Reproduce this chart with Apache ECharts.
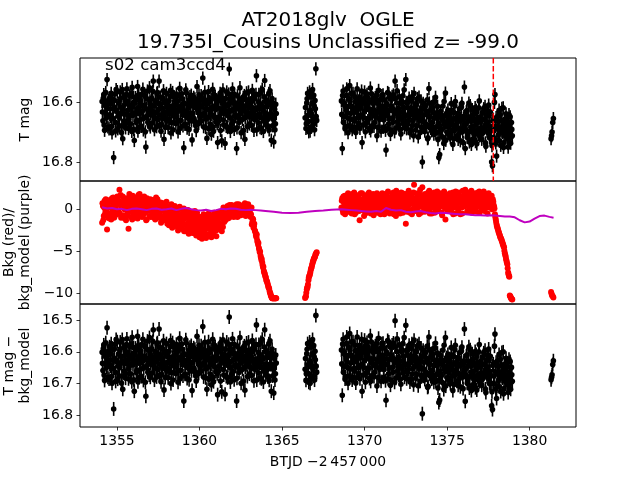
<!DOCTYPE html>
<html><head><meta charset="utf-8">
<script src="https://cdn.jsdelivr.net/npm/echarts@6/dist/echarts.min.js"></script>
<style>html,body{margin:0;padding:0;background:#fff}#c{width:640px;height:480px}</style>
</head><body><div id="c"></div>
<script>
// ---------- text ----------
const titleLine1 = 'AT2018glv  OGLE';
const titleLine2 = '19.735I_Cousins Unclassified z= -99.0';
const sectorLabel = 's02 cam3ccd4';
const xAxisName = 'BTJD \u22122\u2009457\u2009000';
// ---------- ticks ----------
const xTicks = [1355, 1360, 1365, 1370, 1375, 1380];
const magTicks = [16.6, 16.8];
const bkgTicks = [-10, -5, 0];
const corrTicks = [16.5, 16.6, 16.7, 16.8];
const triggerTime = 1377.8;
const magErr = 0.022;

// ---------- segment A ----------
const tA = [
1354.10,1354.15,1354.20,1354.25,1354.30,1354.35,1354.40,1354.45,1354.50,1354.55,
1354.60,1354.65,1354.70,1354.75,1354.80,1354.85,1354.90,1354.95,1355.00,1355.05,
1355.10,1355.15,1355.20,1355.25,1355.30,1355.35,1355.40,1355.45,1355.50,1355.55,
1355.60,1355.65,1355.70,1355.75,1355.80,1355.85,1355.90,1355.95,1356.00,1356.05,
1356.10,1356.15,1356.20,1356.25,1356.30,1356.35,1356.40,1356.45,1356.50,1356.55,
1356.60,1356.65,1356.70,1356.75,1356.80,1356.85,1356.90,1356.95,1357.00,1357.05,
1357.10,1357.15,1357.20,1357.25,1357.30,1357.35,1357.40,1357.45,1357.50,1357.55,
1357.60,1357.65,1357.70,1357.75,1357.80,1357.85,1357.90,1357.95,1358.00,1358.05,
1358.10,1358.15,1358.20,1358.25,1358.30,1358.35,1358.40,1358.45,1358.50,1358.55,
1358.60,1358.65,1358.70,1358.75,1358.80,1358.85,1358.90,1358.95,1359.00,1359.05,
1359.10,1359.15,1359.20,1359.25,1359.30,1359.35,1359.40,1359.45,1359.50,1359.55,
1359.60,1359.65,1359.70,1359.75,1359.80,1359.85,1359.90,1359.95,1360.00,1360.05,
1360.10,1360.15,1360.20,1360.25,1360.30,1360.35,1360.40,1360.45,1360.50,1360.55,
1360.60,1360.65,1360.70,1360.75,1360.80,1360.85,1360.90,1360.95,1361.00,1361.05,
1361.10,1361.15,1361.20,1361.25,1361.30,1361.35,1361.40,1361.45,1361.50,1361.55,
1361.60,1361.65,1361.70,1361.75,1361.80,1361.85,1361.90,1361.95,1362.00,1362.05,
1362.10,1362.15,1362.20,1362.25,1362.30,1362.35,1362.40,1362.45,1362.50,1362.55,
1362.60,1362.65,1362.70,1362.75,1362.80,1362.85,1362.90,1362.95,1363.00,1363.05,
1363.10,1363.15,1363.20,1363.25,1363.30,1363.35,1363.40,1363.45,1363.50,1363.55,
1363.60,1363.65,1363.70,1363.75,1363.80,1363.85,1363.90,1363.95,1364.00,1364.05,
1364.10,1364.15,1364.20,1364.25,1364.30,1364.35,1364.40,1364.45,1364.50,1364.55,
1364.60,1364.65];
const magA = [
16.598,16.662,16.575,16.694,16.612,16.641,16.525,16.683,16.606,16.587,
16.648,16.571,16.703,16.622,16.785,16.594,16.667,16.558,16.631,16.689,
16.603,16.652,16.566,16.618,16.679,16.722,16.584,16.640,16.597,16.671,
16.556,16.627,16.688,16.609,16.645,16.572,16.698,16.615,16.583,16.728,
16.636,16.592,16.661,16.548,16.619,16.684,16.601,16.657,16.574,16.629,
16.693,16.611,16.581,16.750,16.647,16.563,16.624,16.676,16.596,16.638,
16.587,16.669,16.530,16.613,16.654,16.599,16.682,16.568,16.625,16.530,
16.643,16.608,16.674,16.589,16.636,16.724,16.602,16.657,16.571,16.617,
16.685,16.595,16.639,16.561,16.668,16.614,16.692,16.582,16.646,16.607,
16.573,16.633,16.699,16.618,16.554,16.661,16.627,16.588,16.679,16.752,
16.604,16.645,16.569,16.687,16.621,16.593,16.658,16.612,16.577,16.726,
16.637,16.584,16.664,16.602,16.695,16.548,16.629,16.671,16.593,16.649,
16.578,16.615,16.520,16.682,16.638,16.597,16.656,16.721,16.605,16.565,
16.626,16.673,16.589,16.642,16.557,16.697,16.613,16.581,16.664,16.606,
16.735,16.594,16.648,16.571,16.623,16.729,16.587,16.659,16.611,16.738,
16.632,16.566,16.685,16.607,16.490,16.652,16.595,16.674,16.556,16.628,
16.691,16.603,16.644,16.755,16.579,16.621,16.667,16.552,16.638,16.599,
16.658,16.584,16.627,16.724,16.612,16.569,16.681,16.636,16.593,16.649,
16.602,16.677,16.561,16.633,16.694,16.588,16.645,16.512,16.619,16.668,
16.574,16.639,16.606,16.688,16.557,16.625,16.663,16.528,16.597,16.651,
16.615,16.682,16.571,16.642,16.603,16.727,16.589,16.656,16.733,16.624,
16.672,16.638];
const bkgA = [
-1.6,0.4,-0.8,1.0,-0.2,0.6,-2.4,-0.5,0.9,-1.1,
0.2,-1.2,1.3,-0.4,0.7,-0.9,0.1,1.1,-0.6,0.5,
-0.3,2.3,0.8,-1.0,0.3,1.5,-0.7,0.0,1.2,-1.3,
0.6,-0.4,-2.3,1.8,0.2,-0.9,1.0,1.6,-0.5,0.4,
1.4,-0.2,0.7,-1.1,1.7,0.1,-0.6,0.9,1.3,-0.8,
0.3,1.5,-0.4,0.8,-1.2,0.5,1.1,-0.1,0.6,-0.9,
1.0,-0.3,0.4,-1.0,0.9,0.2,-0.7,1.2,-0.2,0.5,
-0.6,0.8,-1.4,0.1,0.7,-1.1,0.3,-0.5,0.9,-1.7,
-0.4,-1.9,0.2,-1.0,0.6,-2.2,-0.3,-1.4,0.4,-0.8,
-1.6,-0.2,-2.5,-0.9,0.3,-1.3,-2.0,-0.6,-1.8,0.1,
-1.1,-2.6,-0.5,-1.7,-0.1,-2.9,-1.4,-0.8,-2.2,-0.3,
-1.9,-0.7,-2.8,-1.2,-3.1,-0.4,-2.1,-1.5,-3.3,-0.9,
-2.4,-3.5,-1.3,-0.6,-2.7,-1.8,-3.4,-1.0,-2.3,-0.5,
-1.6,-2.9,-0.8,-2.0,-1.2,-3.0,-0.4,-1.9,-2.5,-0.9,
-1.4,-2.2,-0.3,-1.7,-0.8,-2.6,-1.1,0.2,-1.5,-0.6,
-0.2,-0.9,0.4,-0.5,-1.0,0.1,-0.7,0.5,-0.3,-0.8,
0.3,-0.6,-0.1,0.6,-0.9,0.0,-0.4,0.4,-0.7,0.2,
-0.5,0.5,-0.2,0.7,-0.8,0.3,-0.3,0.6,-0.6,-0.1,
-0.9,0.2,-1.5,-1.2,-2.0,-2.5,-2.8,-3.3,-3.7,-4.2,
-4.6,-5.1,-5.5,-6.0,-6.3,-6.9,-7.3,-7.6,-8.0,-8.4,
-8.6,-9.0,-9.3,-9.7,-10.0,-10.3,-10.55,-10.55,-10.55,-10.55,
-10.55,-10.55];
const corrA = [
16.601,16.659,16.578,16.690,16.615,16.638,16.524,16.680,16.609,16.584,
16.645,16.574,16.699,16.625,16.780,16.591,16.664,16.561,16.628,16.686,
16.606,16.649,16.569,16.615,16.676,16.718,16.587,16.637,16.600,16.668,
16.559,16.624,16.685,16.612,16.642,16.575,16.694,16.618,16.586,16.724,
16.633,16.595,16.658,16.551,16.616,16.681,16.604,16.654,16.577,16.626,
16.690,16.614,16.584,16.740,16.644,16.566,16.621,16.673,16.599,16.635,
16.590,16.666,16.530,16.616,16.651,16.602,16.679,16.571,16.622,16.528,
16.640,16.611,16.671,16.592,16.633,16.720,16.605,16.654,16.574,16.614,
16.682,16.598,16.636,16.564,16.665,16.617,16.689,16.585,16.643,16.610,
16.576,16.630,16.696,16.621,16.557,16.658,16.624,16.591,16.676,16.755,
16.607,16.642,16.572,16.684,16.624,16.596,16.655,16.615,16.580,16.722,
16.634,16.587,16.661,16.605,16.692,16.551,16.626,16.668,16.596,16.646,
16.581,16.612,16.520,16.679,16.635,16.600,16.653,16.718,16.608,16.568,
16.623,16.670,16.592,16.639,16.560,16.694,16.616,16.584,16.661,16.609,
16.735,16.597,16.645,16.574,16.620,16.726,16.590,16.656,16.614,16.734,
16.629,16.569,16.682,16.610,16.490,16.649,16.598,16.671,16.559,16.625,
16.688,16.606,16.641,16.755,16.582,16.618,16.664,16.555,16.635,16.602,
16.655,16.587,16.624,16.721,16.615,16.572,16.678,16.633,16.596,16.646,
16.605,16.674,16.564,16.630,16.691,16.591,16.642,16.515,16.622,16.665,
16.577,16.636,16.609,16.685,16.560,16.622,16.660,16.530,16.600,16.648,
16.618,16.679,16.574,16.639,16.606,16.724,16.592,16.653,16.730,16.621,
16.669,16.635];

// ---------- segment A, interleaved cadences ----------
const tA2 = [
1354.12,1354.17,1354.22,1354.27,1354.32,1354.37,1354.42,1354.47,1354.52,1354.57,
1354.62,1354.67,1354.72,1354.77,1354.82,1354.87,1354.92,1354.97,1355.02,1355.07,
1355.12,1355.17,1355.22,1355.27,1355.32,1355.37,1355.42,1355.47,1355.52,1355.57,
1355.62,1355.67,1355.72,1355.77,1355.82,1355.87,1355.92,1355.97,1356.02,1356.07,
1356.12,1356.17,1356.22,1356.27,1356.32,1356.37,1356.42,1356.47,1356.52,1356.57,
1356.62,1356.67,1356.72,1356.77,1356.82,1356.87,1356.92,1356.97,1357.02,1357.07,
1357.12,1357.17,1357.22,1357.27,1357.32,1357.37,1357.42,1357.47,1357.52,1357.57,
1357.62,1357.67,1357.72,1357.77,1357.82,1357.87,1357.92,1357.97,1358.02,1358.07,
1358.12,1358.17,1358.22,1358.27,1358.32,1358.37,1358.42,1358.47,1358.52,1358.57,
1358.62,1358.67,1358.72,1358.77,1358.82,1358.87,1358.92,1358.97,1359.02,1359.07,
1359.12,1359.17,1359.22,1359.27,1359.32,1359.37,1359.42,1359.47,1359.52,1359.57,
1359.62,1359.67,1359.72,1359.77,1359.82,1359.87,1359.92,1359.97,1360.02,1360.07,
1360.12,1360.17,1360.22,1360.27,1360.32,1360.37,1360.42,1360.47,1360.52,1360.57,
1360.62,1360.67,1360.72,1360.77,1360.82,1360.87,1360.92,1360.97,1361.02,1361.07,
1361.12,1361.17,1361.22,1361.27,1361.32,1361.37,1361.42,1361.47,1361.52,1361.57,
1361.62,1361.67,1361.72,1361.77,1361.82,1361.87,1361.92,1361.97,1362.02,1362.07,
1362.12,1362.17,1362.22,1362.27,1362.32,1362.37,1362.42,1362.47,1362.52,1362.57,
1362.62,1362.67,1362.72,1362.77,1362.82,1362.87,1362.92,1362.97,1363.02,1363.07,
1363.12,1363.17,1363.22,1363.27,1363.32,1363.37,1363.42,1363.47,1363.52,1363.57,
1363.62,1363.67,1363.72,1363.77,1363.82,1363.87,1363.92,1363.97,1364.02,1364.07,
1364.12,1364.17,1364.22,1364.27,1364.32,1364.37,1364.42,1364.47,1364.52,1364.57,
1364.62];
const magA2 = [
16.633,16.587,16.676,16.609,16.568,16.652,16.621,16.595,16.689,16.642,
16.604,16.681,16.589,16.655,16.617,16.573,16.696,16.628,16.565,16.647,
16.679,16.592,16.639,16.701,16.558,16.626,16.663,16.608,16.686,16.574,
16.641,16.598,16.657,16.579,16.672,16.616,16.551,16.644,16.691,16.603,
16.585,16.668,16.624,16.697,16.576,16.639,16.593,16.681,16.612,16.557,
16.654,16.578,16.699,16.622,16.589,16.667,16.641,16.552,16.683,16.609,
16.628,16.564,16.646,16.692,16.596,16.634,16.571,16.658,16.605,16.678,
16.583,16.697,16.619,16.655,16.562,16.638,16.684,16.597,16.663,16.629,
16.611,16.656,16.581,16.703,16.627,16.568,16.645,16.624,16.592,16.671,
16.648,16.596,16.662,16.579,16.688,16.613,16.572,16.642,16.606,16.631,
16.674,16.559,16.631,16.608,16.654,16.691,16.582,16.637,16.663,16.598,
16.612,16.655,16.589,16.678,16.621,16.603,16.669,16.576,16.641,16.614,
16.663,16.588,16.643,16.604,16.567,16.685,16.622,16.594,16.651,16.689,
16.598,16.641,16.707,16.617,16.683,16.575,16.651,16.625,16.592,16.672,
16.619,16.664,16.581,16.695,16.638,16.603,16.559,16.676,16.627,16.588,
16.681,16.612,16.645,16.573,16.631,16.698,16.587,16.626,16.664,16.602,
16.574,16.649,16.617,16.686,16.606,16.653,16.589,16.629,16.702,16.613,
16.626,16.695,16.578,16.651,16.593,16.638,16.606,16.566,16.673,16.617,
16.647,16.591,16.619,16.583,16.657,16.626,16.574,16.692,16.648,16.599,
16.621,16.685,16.567,16.652,16.613,16.698,16.582,16.636,16.675,16.594,
16.658,16.601,16.693,16.562,16.637,16.611,16.679,16.603,16.645,16.692,
16.607];
const bkgA2 = [
0.7,-1.3,0.2,-0.6,1.2,-0.1,0.8,-1.0,0.3,1.1,
-0.7,0.9,-0.2,1.4,-1.0,0.5,-0.4,0.8,1.5,-0.3,
1.0,-0.5,1.7,0.4,-0.9,0.9,0.2,-1.1,0.6,1.3,
-0.8,1.2,0.3,-0.3,1.5,0.7,-1.2,0.1,1.1,-0.6,
0.5,-1.0,1.1,0.3,-0.5,1.8,-0.2,0.6,-0.9,1.0,
-0.6,0.9,0.1,-1.3,1.3,-0.2,0.7,-0.8,1.2,0.2,
-0.8,1.1,-0.4,0.6,-1.2,1.4,0.0,-0.6,0.8,-1.0,
0.4,-1.6,0.6,-0.9,-0.2,0.5,-1.3,0.2,-0.8,0.3,
-1.3,0.0,-1.7,-0.5,-2.0,0.3,-1.1,-0.2,-1.8,-0.6,
-0.4,-2.1,-1.0,0.2,-1.7,-0.7,-2.3,-0.1,-1.2,-2.6,
-0.6,-1.9,-2.4,-0.9,-2.0,-1.2,-0.3,-2.5,-1.6,-2.8,
-1.0,-2.4,-0.2,-1.8,-2.6,-0.8,-1.4,-3.0,-2.2,-1.1,
-1.7,-2.9,-0.9,-2.2,-3.2,-1.4,-2.0,-0.7,-3.0,-1.9,
-2.3,-1.0,-3.3,-1.5,-2.6,-0.6,-2.1,-1.3,-3.2,-1.6,
-2.0,-0.6,-2.4,-1.0,-1.9,-0.4,-2.1,-0.9,0.1,-1.3,
-0.6,0.2,-1.1,-0.3,0.5,-0.8,0.0,-0.5,0.3,-0.9,
-0.3,0.4,-0.8,0.1,-0.5,0.6,-0.2,-0.7,0.3,-0.4,
0.1,-0.6,0.4,-0.3,0.6,-0.7,0.2,-0.4,0.0,-0.5,
-0.6,-1.8,-1.1,-2.2,-1.7,-2.6,-3.1,-3.0,-3.9,-4.0,
-4.8,-5.0,-5.7,-5.9,-6.6,-6.8,-7.5,-7.8,-8.1,-8.5,
-8.8,-9.2,-9.4,-9.9,-10.2,-10.45,-10.55,-10.55,-10.55,-10.55,
-10.55];
const corrA2 = [
16.636,16.590,16.673,16.612,16.571,16.649,16.624,16.598,16.686,16.639,
16.607,16.678,16.592,16.652,16.620,16.576,16.693,16.631,16.568,16.644,
16.676,16.595,16.636,16.698,16.561,16.629,16.660,16.611,16.683,16.577,
16.638,16.601,16.654,16.582,16.669,16.619,16.554,16.641,16.688,16.606,
16.588,16.665,16.627,16.694,16.579,16.636,16.596,16.678,16.615,16.560,
16.651,16.581,16.696,16.625,16.592,16.664,16.638,16.555,16.680,16.612,
16.625,16.567,16.643,16.689,16.599,16.631,16.574,16.655,16.608,16.675,
16.586,16.694,16.622,16.652,16.565,16.635,16.681,16.600,16.660,16.632,
16.614,16.653,16.584,16.700,16.630,16.571,16.642,16.627,16.595,16.668,
16.645,16.599,16.659,16.582,16.685,16.616,16.575,16.639,16.609,16.628,
16.671,16.562,16.628,16.611,16.651,16.688,16.585,16.634,16.660,16.601,
16.615,16.652,16.592,16.675,16.624,16.606,16.666,16.579,16.638,16.617,
16.660,16.591,16.640,16.607,16.570,16.682,16.625,16.597,16.648,16.686,
16.601,16.638,16.704,16.620,16.680,16.578,16.648,16.628,16.595,16.669,
16.622,16.661,16.584,16.692,16.635,16.606,16.562,16.673,16.630,16.591,
16.678,16.615,16.642,16.576,16.634,16.695,16.590,16.629,16.661,16.605,
16.577,16.646,16.620,16.683,16.609,16.650,16.592,16.632,16.699,16.616,
16.629,16.692,16.581,16.648,16.596,16.641,16.609,16.569,16.670,16.620,
16.650,16.594,16.622,16.586,16.654,16.629,16.577,16.689,16.645,16.602,
16.624,16.682,16.570,16.649,16.616,16.695,16.585,16.639,16.672,16.597,
16.655,16.604,16.690,16.565,16.640,16.614,16.676,16.606,16.642,16.689,
16.610];

// ---------- segment B ----------
const tB = [1366.40,1366.45,1366.50,1366.55,1366.60,1366.65,1366.70,1366.75,1366.80,1366.85,1366.90,1366.95,1367.00,1367.05,1367.10];
const magB = [16.652,16.688,16.603,16.571,16.665,16.629,16.697,16.582,16.641,16.558,16.674,16.613,16.595,16.489,16.661];
const bkgB = [-10.5,-10.3,-9.5,-9.2,-8.4,-7.9,-7.6,-7.1,-6.8,-6.4,-6.1,-5.8,-5.6,-5.3,-5.1];
const corrB = [16.655,16.690,16.606,16.574,16.668,16.632,16.699,16.585,16.644,16.561,16.677,16.616,16.598,16.485,16.664];
const tB2 = [1366.42,1366.47,1366.52,1366.57,1366.62,1366.67,1366.72,1366.77,1366.82,1366.87,1366.92,1366.97,1367.02,1367.07];
const magB2 = [16.618,16.672,16.589,16.644,16.699,16.566,16.631,16.683,16.604,16.657,16.577,16.692,16.622,16.648];
const bkgB2 = [-10.4,-9.9,-9.3,-8.9,-8.1,-7.8,-7.4,-7.0,-6.6,-6.2,-5.9,-5.7,-5.4,-5.2];
const corrB2 = [16.621,16.669,16.592,16.641,16.696,16.569,16.634,16.680,16.607,16.654,16.580,16.689,16.625,16.645];

// ---------- segment C ----------
const tC = [
1368.60,1368.65,1368.70,1368.75,1368.80,1368.85,1368.90,1368.95,1369.00,1369.05,
1369.10,1369.15,1369.20,1369.25,1369.30,1369.35,1369.40,1369.45,1369.50,1369.55,
1369.60,1369.65,1369.70,1369.75,1369.80,1369.85,1369.90,1369.95,1370.00,1370.05,
1370.10,1370.15,1370.20,1370.25,1370.30,1370.35,1370.40,1370.45,1370.50,1370.55,
1370.60,1370.65,1370.70,1370.75,1370.80,1370.85,1370.90,1370.95,1371.00,1371.05,
1371.10,1371.15,1371.20,1371.25,1371.30,1371.35,1371.40,1371.45,1371.50,1371.55,
1371.60,1371.65,1371.70,1371.75,1371.80,1371.85,1371.90,1371.95,1372.00,1372.05,
1372.10,1372.15,1372.20,1372.25,1372.30,1372.35,1372.40,1372.45,1372.50,1372.55,
1372.60,1372.65,1372.70,1372.75,1372.80,1372.85,1372.90,1372.95,1373.00,1373.05,
1373.10,1373.15,1373.20,1373.25,1373.30,1373.35,1373.40,1373.45,1373.50,1373.55,
1373.60,1373.65,1373.70,1373.75,1373.80,1373.85,1373.90,1373.95,1374.00,1374.05,
1374.10,1374.15,1374.20,1374.25,1374.30,1374.35,1374.40,1374.45,1374.50,1374.55,
1374.60,1374.65,1374.70,1374.75,1374.80,1374.85,1374.90,1374.95,1375.00,1375.05,
1375.10,1375.15,1375.20,1375.25,1375.30,1375.35,1375.40,1375.45,1375.50,1375.55,
1375.60,1375.65,1375.70,1375.75,1375.80,1375.85,1375.90,1375.95,1376.00,1376.05,
1376.10,1376.15,1376.20,1376.25,1376.30,1376.35,1376.40,1376.45,1376.50,1376.55,
1376.60,1376.65,1376.70,1376.75,1376.80,1376.85,1376.90,1376.95,1377.00,1377.05,
1377.10,1377.15,1377.20,1377.25,1377.30,1377.35,1377.40,1377.45,1377.50,1377.55,
1377.60,1377.65,1377.70,1377.75,1377.80,1377.85,1377.90,1377.95,1378.00,1378.05,
1378.10,1378.15,1378.20,1378.25,1378.30,1378.35,1378.40,1378.45,1378.50,1378.55,
1378.60,1378.65,1378.70,1378.75,1378.80,1378.85,1378.90,1378.95];
const magC = [
16.596,16.755,16.563,16.648,16.612,16.681,16.577,16.635,16.702,16.589,
16.545,16.657,16.614,16.692,16.571,16.628,16.663,16.598,16.685,16.556,
16.624,16.671,16.583,16.645,16.607,16.735,16.592,16.653,16.566,16.699,
16.618,16.574,16.662,16.601,16.688,16.553,16.637,16.679,16.594,16.626,
16.669,16.585,16.643,16.712,16.604,16.561,16.654,16.622,16.697,16.578,
16.636,16.684,16.592,16.645,16.760,16.611,16.568,16.673,16.627,16.589,
16.693,16.614,16.652,16.576,16.638,16.530,16.687,16.603,16.664,16.621,
16.582,16.648,16.706,16.597,16.633,16.671,16.559,16.642,16.525,16.689,
16.618,16.664,16.587,16.703,16.635,16.596,16.678,16.621,16.571,16.653,
16.692,16.609,16.647,16.716,16.583,16.661,16.629,16.684,16.800,16.604,
16.643,16.697,16.611,16.675,16.592,16.719,16.555,16.651,16.688,16.626,
16.668,16.601,16.707,16.639,16.584,16.682,16.654,16.725,16.785,16.775,
16.631,16.694,16.658,16.613,16.738,16.672,16.570,16.646,16.701,16.627,
16.683,16.652,16.719,16.605,16.667,16.741,16.634,16.691,16.598,16.676,
16.712,16.643,16.687,16.622,16.729,16.661,16.604,16.698,16.655,16.550,
16.755,16.671,16.628,16.706,16.649,16.733,16.612,16.684,16.662,16.723,
16.641,16.697,16.618,16.676,16.739,16.653,16.708,16.596,16.687,16.664,
16.724,16.635,16.692,16.658,16.614,16.747,16.671,16.629,16.703,16.645,
16.682,16.718,16.800,16.812,16.657,16.695,16.575,16.736,16.780,16.648,
16.709,16.627,16.683,16.744,16.661,16.702,16.619,16.735,16.674,16.693,
16.656,16.721,16.750,16.642,16.698,16.737,16.668,16.712];
const bkgC = [
0.2,1.3,-0.4,0.8,1.6,0.0,1.1,-0.2,1.9,0.5,
1.4,-0.3,0.9,1.8,0.2,1.2,-0.6,0.7,1.5,0.1,
0.6,1.7,-1.3,1.0,0.3,1.9,-0.1,0.8,1.3,-0.5,
1.1,0.4,1.8,-0.2,0.9,1.4,0.0,1.6,0.5,-0.7,
0.7,1.5,0.1,1.9,-0.4,1.0,0.6,1.7,-0.1,1.2,
0.3,1.8,-0.6,1.1,0.5,1.6,-0.2,0.9,1.4,0.2,
1.3,-0.3,0.8,2.0,0.1,1.2,-0.8,0.6,1.7,0.4,
1.0,-0.5,1.5,0.3,1.9,0.7,-0.1,1.2,-1.7,0.9,
0.2,1.6,0.5,-0.4,1.3,0.8,1.9,0.0,2.9,1.1,
-0.2,1.4,0.6,1.8,-0.6,1.0,0.3,1.7,2.6,0.5,
1.2,-0.3,0.9,1.6,0.1,2.0,0.7,-0.5,1.3,0.4,
1.8,0.2,1.1,-0.4,1.5,0.6,2.1,-0.1,1.0,0.8,
0.3,1.4,-0.7,1.9,0.5,1.2,-1.2,0.9,1.6,0.0,
1.1,0.4,1.7,-0.3,0.8,2.0,0.2,1.3,-0.5,1.0,
0.6,1.8,0.1,1.2,-0.6,1.5,0.7,2.2,0.3,0.9,
2.3,0.5,1.4,-0.2,1.0,1.7,0.3,1.1,-0.4,1.6,
0.8,0.2,1.9,0.6,-0.3,1.3,0.9,2.1,0.4,1.0,
-0.1,1.5,0.7,1.2,0.3,1.8,0.5,-0.5,1.4,0.8,
1.1,0.4,1.6,0.2,0.9,0.3,-0.6,-1.2,-1.8,-2.2,
-2.5,-2.8,-3.1,-3.4,-3.6,-3.9,-4.2,-4.5,-5.2,-5.6,
-6.1,-6.5,-7.5,-7.9,-10.2,-10.4,-10.6,-10.7];
const corrC = [
16.594,16.737,16.560,16.645,16.609,16.678,16.574,16.632,16.699,16.586,
16.542,16.654,16.611,16.689,16.568,16.625,16.660,16.595,16.682,16.553,
16.621,16.668,16.580,16.642,16.604,16.724,16.589,16.650,16.563,16.696,
16.614,16.570,16.658,16.597,16.684,16.549,16.633,16.675,16.590,16.622,
16.665,16.581,16.639,16.708,16.600,16.557,16.650,16.618,16.693,16.574,
16.632,16.680,16.588,16.641,16.753,16.607,16.564,16.669,16.623,16.585,
16.689,16.610,16.648,16.572,16.634,16.502,16.683,16.599,16.660,16.617,
16.578,16.644,16.702,16.593,16.629,16.667,16.555,16.638,16.516,16.685,
16.610,16.656,16.579,16.695,16.627,16.588,16.670,16.613,16.563,16.645,
16.683,16.600,16.638,16.707,16.574,16.652,16.620,16.675,16.795,16.595,
16.633,16.687,16.601,16.665,16.582,16.709,16.553,16.641,16.678,16.616,
16.657,16.590,16.696,16.628,16.573,16.671,16.643,16.714,16.760,16.752,
16.612,16.675,16.639,16.594,16.719,16.653,16.555,16.627,16.682,16.608,
16.664,16.633,16.700,16.586,16.648,16.722,16.615,16.672,16.579,16.657,
16.693,16.624,16.668,16.603,16.710,16.642,16.585,16.679,16.636,16.528,
16.756,16.652,16.609,16.687,16.630,16.714,16.593,16.665,16.643,16.704,
16.622,16.678,16.599,16.657,16.720,16.634,16.689,16.577,16.668,16.645,
16.705,16.616,16.673,16.639,16.595,16.728,16.652,16.610,16.684,16.626,
16.663,16.699,16.770,16.782,16.638,16.676,16.544,16.717,16.747,16.629,
16.690,16.608,16.664,16.725,16.642,16.683,16.600,16.716,16.655,16.674,
16.637,16.702,16.728,16.623,16.679,16.718,16.649,16.693];

// ---------- segment C, interleaved cadences ----------
const tC2 = [
1368.62,1368.67,1368.72,1368.77,1368.82,1368.87,1368.92,1368.97,1369.02,1369.07,
1369.12,1369.17,1369.22,1369.27,1369.32,1369.37,1369.42,1369.47,1369.52,1369.57,
1369.62,1369.67,1369.72,1369.77,1369.82,1369.87,1369.92,1369.97,1370.02,1370.07,
1370.12,1370.17,1370.22,1370.27,1370.32,1370.37,1370.42,1370.47,1370.52,1370.57,
1370.62,1370.67,1370.72,1370.77,1370.82,1370.87,1370.92,1370.97,1371.02,1371.07,
1371.12,1371.17,1371.22,1371.27,1371.32,1371.37,1371.42,1371.47,1371.52,1371.57,
1371.62,1371.67,1371.72,1371.77,1371.82,1371.87,1371.92,1371.97,1372.02,1372.07,
1372.12,1372.17,1372.22,1372.27,1372.32,1372.37,1372.42,1372.47,1372.52,1372.57,
1372.62,1372.67,1372.72,1372.77,1372.82,1372.87,1372.92,1372.97,1373.02,1373.07,
1373.12,1373.17,1373.22,1373.27,1373.32,1373.37,1373.42,1373.47,1373.52,1373.57,
1373.62,1373.67,1373.72,1373.77,1373.82,1373.87,1373.92,1373.97,1374.02,1374.07,
1374.12,1374.17,1374.22,1374.27,1374.32,1374.37,1374.42,1374.47,1374.52,1374.57,
1374.62,1374.67,1374.72,1374.77,1374.82,1374.87,1374.92,1374.97,1375.02,1375.07,
1375.12,1375.17,1375.22,1375.27,1375.32,1375.37,1375.42,1375.47,1375.52,1375.57,
1375.62,1375.67,1375.72,1375.77,1375.82,1375.87,1375.92,1375.97,1376.02,1376.07,
1376.12,1376.17,1376.22,1376.27,1376.32,1376.37,1376.42,1376.47,1376.52,1376.57,
1376.62,1376.67,1376.72,1376.77,1376.82,1376.87,1376.92,1376.97,1377.02,1377.07,
1377.12,1377.17,1377.22,1377.27,1377.32,1377.37,1377.42,1377.47,1377.52,1377.57,
1377.62,1377.67,1377.72,1377.77,1377.82,1377.87,1377.92,1377.97,1378.02,1378.07,
1378.12,1378.17,1378.22,1378.27,1378.32,1378.37,1378.42,1378.47,1378.52,1378.57,
1378.62,1378.67,1378.72,1378.77,1378.82,1378.87,1378.92];
const magC2 = [
16.641,16.578,16.667,16.603,16.689,16.624,16.556,16.652,16.615,16.679,
16.597,16.638,16.571,16.683,16.619,16.655,16.582,16.701,16.634,16.608,
16.652,16.596,16.688,16.617,16.563,16.643,16.676,16.601,16.629,16.584,
16.668,16.611,16.587,16.654,16.625,16.696,16.572,16.639,16.605,16.681,
16.601,16.649,16.577,16.632,16.684,16.619,16.658,16.591,16.643,16.614,
16.576,16.659,16.625,16.694,16.603,16.641,16.687,16.572,16.654,16.708,
16.614,16.581,16.667,16.626,16.699,16.588,16.635,16.562,16.649,16.677,
16.632,16.691,16.604,16.657,16.579,16.618,16.685,16.646,16.601,16.664,
16.673,16.598,16.645,16.629,16.694,16.582,16.661,16.712,16.637,16.606,
16.625,16.679,16.588,16.651,16.633,16.701,16.596,16.658,16.621,16.685,
16.666,16.612,16.683,16.631,16.722,16.647,16.603,16.679,16.624,16.696,
16.617,16.688,16.652,16.598,16.703,16.636,16.614,16.671,16.699,16.645,
16.689,16.643,16.716,16.662,16.598,16.681,16.727,16.637,16.668,16.705,
16.641,16.709,16.674,16.628,16.695,16.658,16.722,16.612,16.683,16.651,
16.667,16.724,16.639,16.701,16.658,16.616,16.689,16.735,16.647,16.678,
16.693,16.632,16.718,16.664,16.603,16.697,16.653,16.741,16.625,16.682,
16.706,16.659,16.732,16.627,16.694,16.668,16.619,16.713,16.649,16.691,
16.658,16.703,16.622,16.684,16.736,16.645,16.697,16.667,16.610,16.719,
16.633,16.694,16.745,16.662,16.718,16.601,16.681,16.652,16.727,16.689,
16.664,16.729,16.643,16.697,16.621,16.684,16.751,16.658,16.712,16.639,
16.701,16.667,16.725,16.684,16.649,16.716,16.691];
const bkgC2 = [
1.0,-0.1,1.5,0.4,-0.6,1.2,0.6,1.7,-0.3,0.9,
0.3,1.6,-0.5,1.0,0.6,2.0,0.2,-0.4,1.1,0.7,
1.4,-0.2,0.8,1.9,0.0,1.2,0.5,-0.8,1.6,0.3,
-0.3,1.3,0.7,2.0,0.2,-0.5,1.1,0.6,1.8,0.1,
1.2,-0.2,0.9,0.4,1.7,0.0,1.4,-0.6,0.8,1.9,
0.5,1.1,-0.3,1.6,0.8,-0.1,2.1,0.4,-0.5,1.3,
0.6,1.8,0.2,-0.6,1.4,0.9,2.2,-0.2,1.0,0.5,
1.6,0.1,2.0,0.8,-0.4,1.3,0.5,1.8,0.2,-0.3,
1.0,2.2,-0.1,0.7,1.5,-0.6,1.1,2.0,0.4,0.8,
1.3,0.0,1.9,0.6,1.1,2.3,-0.4,0.9,1.5,0.2,
0.7,1.8,-0.2,1.2,0.4,1.6,2.2,0.1,0.9,-0.5,
1.4,0.5,2.0,0.9,-0.3,1.7,0.2,1.3,0.6,1.9,
1.0,-0.4,1.5,0.6,2.1,0.1,1.1,0.4,-0.2,1.7,
0.5,1.9,0.0,1.4,1.0,-0.6,1.6,0.7,2.1,0.3,
1.2,-0.1,2.0,0.8,1.5,0.2,-0.5,1.3,1.0,1.8,
0.4,1.2,-0.3,2.0,0.7,0.1,1.5,2.2,0.6,1.0,
1.4,-0.2,0.9,1.7,0.3,2.0,0.5,-0.4,1.2,1.6,
0.6,1.0,2.1,-0.2,1.3,0.8,1.6,0.2,1.9,0.5,
0.7,1.4,0.0,1.2,0.5,0.1,-0.9,-1.5,-2.0,-2.3,
-2.7,-3.0,-3.3,-3.5,-3.8,-4.1,-4.4,-4.9,-5.4,-5.9,
-6.3,-7.0,-7.7,-8.0,-10.3,-10.5,-10.65];
const corrC2 = [
16.638,16.575,16.664,16.600,16.686,16.621,16.553,16.649,16.612,16.676,
16.594,16.635,16.568,16.680,16.616,16.652,16.579,16.698,16.631,16.605,
16.649,16.593,16.685,16.614,16.560,16.640,16.673,16.598,16.626,16.581,
16.665,16.608,16.584,16.651,16.622,16.693,16.569,16.636,16.602,16.678,
16.598,16.646,16.574,16.629,16.681,16.616,16.655,16.588,16.640,16.611,
16.573,16.656,16.622,16.691,16.600,16.638,16.684,16.569,16.651,16.705,
16.611,16.578,16.664,16.623,16.696,16.585,16.632,16.559,16.646,16.674,
16.627,16.686,16.599,16.652,16.574,16.613,16.680,16.641,16.596,16.659,
16.665,16.590,16.637,16.621,16.686,16.574,16.653,16.704,16.629,16.598,
16.617,16.671,16.580,16.643,16.625,16.693,16.588,16.650,16.613,16.677,
16.656,16.602,16.673,16.621,16.712,16.637,16.593,16.669,16.614,16.686,
16.607,16.678,16.642,16.588,16.693,16.626,16.604,16.661,16.689,16.635,
16.670,16.624,16.697,16.643,16.579,16.662,16.708,16.618,16.649,16.686,
16.622,16.690,16.655,16.609,16.676,16.639,16.703,16.593,16.664,16.632,
16.648,16.705,16.620,16.682,16.639,16.597,16.670,16.716,16.628,16.659,
16.674,16.613,16.699,16.645,16.584,16.678,16.634,16.722,16.606,16.663,
16.687,16.640,16.713,16.608,16.675,16.649,16.600,16.694,16.630,16.672,
16.639,16.684,16.603,16.665,16.717,16.626,16.678,16.648,16.591,16.700,
16.614,16.675,16.726,16.643,16.699,16.582,16.662,16.633,16.708,16.670,
16.645,16.710,16.624,16.678,16.602,16.665,16.732,16.639,16.693,16.620,
16.682,16.648,16.706,16.665,16.630,16.697,16.672];

// ---------- segment D ----------
const tD = [1381.30,1381.33,1381.36,1381.40,1381.44];
const magD = [16.722,16.712,16.700,16.668,16.655];
const bkgD = [-9.8,-10.0,-10.2,-10.3,-10.45];
const corrD = [16.688,16.680,16.672,16.640,16.628];

// ---------- background model (purple) ----------
const modelT = [
1354.1,1354.4,1354.7,1355.0,1355.3,1355.6,1355.9,1356.2,1356.5,1356.8,
1357.1,1357.4,1357.7,1358.0,1358.3,1358.6,1358.9,1359.2,1359.5,1359.8,
1360.1,1360.4,1360.7,1361.0,1361.3,1361.6,1361.9,1362.2,1362.5,1362.8,
1363.1,1363.4,1363.7,1364.0,1364.5,1365.0,1365.5,1366.0,1366.5,1367.0,
1367.5,1368.0,1368.6,1368.9,1369.2,1369.5,1369.8,1370.1,1370.4,1370.7,
1371.0,1371.3,1371.6,1371.9,1372.2,1372.5,1372.8,1373.1,1373.4,1373.7,
1374.0,1374.3,1374.6,1374.9,1375.2,1375.5,1375.8,1376.1,1376.4,1376.7,
1377.0,1377.3,1377.6,1377.9,1378.2,1378.5,1378.8,1379.1,1379.4,1379.7,
1380.0,1380.3,1380.6,1380.9,1381.2,1381.45];
const modelV = [
0.25,0.10,0.15,0.00,0.05,-0.10,0.05,0.10,0.00,-0.10,
0.05,0.10,-0.05,0.00,0.10,-0.10,0.05,0.15,0.00,-0.10,
-0.15,-0.05,-0.20,-0.10,0.05,0.00,0.10,0.05,-0.05,-0.10,
-0.05,-0.10,-0.15,-0.20,-0.30,-0.40,-0.45,-0.40,-0.30,-0.20,
-0.15,-0.05,0.00,-0.05,-0.10,-0.15,-0.20,-0.25,-0.30,-0.20,
-0.30,0.15,-0.05,-0.15,-0.10,-0.30,-0.35,-0.25,-0.20,-0.35,
-0.45,-0.50,-0.40,-0.45,-0.50,-0.55,-0.60,-0.60,-0.65,-0.70,
-0.70,-0.75,-0.70,-0.75,-0.80,-0.85,-0.85,-0.95,-1.30,-1.55,
-1.45,-1.10,-0.80,-0.75,-0.90,-1.00];

// ---------- build ----------
function zip(t, v) { return t.map((x, i) => [x, v[i]]); }
const magData = [].concat(zip(tA, magA), zip(tA2, magA2), zip(tB, magB), zip(tB2, magB2), zip(tC, magC), zip(tC2, magC2), zip(tD, magD));
const bkgData = [].concat(zip(tA, bkgA), zip(tA2, bkgA2), zip(tB, bkgB), zip(tB2, bkgB2), zip(tC, bkgC), zip(tC2, bkgC2), zip(tD, bkgD));
const corrData = [].concat(zip(tA, corrA), zip(tA2, corrA2), zip(tB, corrB), zip(tB2, corrB2), zip(tC, corrC), zip(tC2, corrC2), zip(tD, corrD));
const modelData = zip(modelT, modelV);

const FONT = 'DejaVu Sans';
const X_MIN = 1352.76, X_MAX = 1382.81;
const grids = [
  { left: 80, width: 496, top: 58, height: 123 },
  { left: 80, width: 496, top: 181, height: 123 },
  { left: 80, width: 496, top: 304, height: 123 }
].map(g => Object.assign(g, { show: true, borderColor: '#000', borderWidth: 1, backgroundColor: 'transparent', containLabel: false, outerBoundsMode: 'none' }));

function xAx(i, showLabels) {
  return {
    type: 'value', gridIndex: i, min: X_MIN, max: X_MAX,
    axisLine: { show: false }, splitLine: { show: false },
    axisTick: { show: showLabels, customValues: xTicks, length: 3.5, lineStyle: { color: '#000', width: 0.8 } },
    axisLabel: { show: showLabels, customValues: xTicks, color: '#000', fontFamily: FONT, fontSize: 13.9, margin: 7, formatter: v => String(v) },
    name: showLabels ? xAxisName : '', nameLocation: 'middle', nameGap: 28, nameMoveOverlap: false,
    nameTextStyle: { color: '#000', fontFamily: FONT, fontSize: 13.9 }
  };
}
function yAx(i, min, max, inv, ticks, name, fmt) {
  return {
    type: 'value', gridIndex: i, min: min, max: max, inverse: inv,
    axisLine: { show: false }, splitLine: { show: false },
    axisTick: { show: true, customValues: ticks, length: 3.5, lineStyle: { color: '#000', width: 0.8 } },
    axisLabel: { show: true, customValues: ticks, color: '#000', fontFamily: FONT, fontSize: 13.9, margin: 7, formatter: fmt },
    name: name, nameLocation: 'middle', nameRotate: 90, nameGap: 47, nameMoveOverlap: false,
    nameTextStyle: { color: '#000', fontFamily: FONT, fontSize: 13.9, lineHeight: 16 }
  };
}
const fmt1 = v => v.toFixed(1);
const fmtBkg = v => v < 0 ? '\u2212' + Math.abs(v) : String(v);

function errRender(params, api) {
  const x = api.value(0), y = api.value(1);
  const p = api.coord([x, y]);
  const a = api.coord([x, y - magErr]);
  const b = api.coord([x, y + magErr]);
  return {
    type: 'group', children: [
      { type: 'line', shape: { x1: p[0], y1: a[1], x2: p[0], y2: b[1] }, style: { stroke: '#000', lineWidth: 1.6 } },
      { type: 'circle', shape: { cx: p[0], cy: p[1], r: 2.8 }, style: { fill: '#000' } }
    ]
  };
}

const titleFont = '20px "' + FONT + '"';
const option = {
  animation: false,
  backgroundColor: '#fff',
  grid: grids,
  xAxis: [xAx(0, false), xAx(1, false), xAx(2, true)],
  yAxis: [
    yAx(0, 16.453, 16.863, true, magTicks, 'T mag', fmt1),
    yAx(1, -11.22, 3.35, false, bkgTicks, 'Bkg (red)/\nbkg_model (purple)', fmtBkg),
    yAx(2, 16.449, 16.837, true, corrTicks, 'T mag \u2212\nbkg_model', fmt1)
  ],
  graphic: [
    { type: 'text', x: 328, y: 20.5, style: { text: titleLine1, font: titleFont, fill: '#000', textAlign: 'center', textVerticalAlign: 'middle' } },
    { type: 'text', x: 328, y: 43, style: { text: titleLine2, font: titleFont, fill: '#000', textAlign: 'center', textVerticalAlign: 'middle' } },
    { type: 'text', x: 105, y: 65.5, z: 100, style: { text: sectorLabel, font: '16.67px "' + FONT + '"', fill: '#000', textAlign: 'left', textVerticalAlign: 'middle' } }
  ],
  series: [
    { type: 'custom', xAxisIndex: 0, yAxisIndex: 0, data: magData, renderItem: errRender, clip: true, z: 2 },
    { type: 'line', xAxisIndex: 0, yAxisIndex: 0, data: [[triggerTime, 16.453], [triggerTime, 16.863]], showSymbol: false, symbol: 'none',
      lineStyle: { color: '#ff0000', width: 1.5, type: [5.5, 2.4] }, z: 5 },
    { type: 'scatter', xAxisIndex: 1, yAxisIndex: 1, data: bkgData, symbol: 'circle', symbolSize: 6, itemStyle: { color: '#ff0000', opacity: 1 }, clip: true, z: 2 },
    { type: 'line', xAxisIndex: 1, yAxisIndex: 1, data: modelData, showSymbol: false, symbol: 'none', lineStyle: { color: '#bf00bf', width: 2 }, z: 4 },
    { type: 'custom', xAxisIndex: 2, yAxisIndex: 2, data: corrData, renderItem: errRender, clip: true, z: 2 }
  ]
};
const chart = echarts.init(document.getElementById('c'), null, { renderer: 'canvas' });
chart.setOption(option);
</script></body></html>
